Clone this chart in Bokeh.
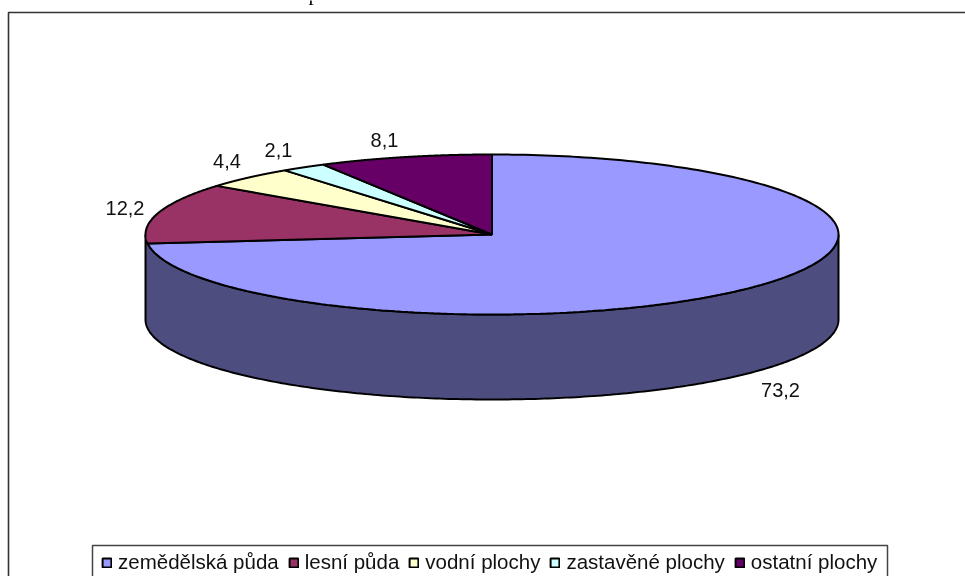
import numpy as np
from bokeh.embed import file_html
from bokeh.resources import INLINE
from bokeh.core.properties import value
from bokeh.models import ColumnDataSource, Legend, LegendItem, Range1d
from bokeh.plotting import figure

categories = ["zemědělská půda", "lesní půda", "vodní plochy", "zastavěné plochy", "ostatní plochy"]
shares = [73.2, 12.2, 4.4, 2.1, 8.1]
value_labels = ["73,2", "12,2", "4,4", "2,1", "8,1"]
colors = ["#9999FF", "#993366", "#FFFFCC", "#CCFFFF", "#660066"]
wall_color = "#4D4D80"
label_x = [780, 124.5, 226.5, 278, 384]
label_y = [389, 207, 160.5, 149.5, 139.5]

W, H = 965, 576
CX, CY, RX, RY, DEPTH = 491.5, 234, 346.5, 80, 85
EDGE = "#000000"

p = figure(width=W, height=H, x_range=Range1d(0, W), y_range=Range1d(H, 0),
           output_backend="svg", toolbar_location=None, min_border=0,
           background_fill_color="white", border_fill_color="white",
           outline_line_color=None,
           styles={"position": "fixed", "left": "0", "top": "0"})
p.axis.visible = False
p.grid.visible = False

# chart frame, legend frame and the clipped title
p.line([8, 8, W], [H, 12, 12], line_color="#333333", line_width=1.6)
p.line([92, 92, 887, 887], [H, 545, 545, H], line_color="#444444", line_width=1.5)
p.text([308], [-8], text=["p"], text_font=value("Liberation Serif"),
       text_font_size="21px", text_color="#000000", text_baseline="alphabetic")


def arc(t0, t1, dy=0.0):
    t = np.radians(np.linspace(t0, t1, 240))
    return CX + RX * np.cos(t), CY + dy - RY * np.sin(t)


# side wall of the first slice, visible along the whole front edge
x_top, y_top = arc(0, -180)
x_bot, y_bot = arc(-180, 0, DEPTH)
p.patch(np.r_[x_top, x_bot], np.r_[y_top, y_bot], fill_color=wall_color,
        line_color=EDGE, line_width=2)

# top slices, clockwise from twelve o'clock
cum = np.cumsum([0] + shares) / sum(shares)
renderers = []
for i, name in enumerate(categories):
    xa, ya = arc(90 - 360 * cum[i], 90 - 360 * cum[i + 1])
    r = p.patch(np.r_[CX, xa, CX], np.r_[CY, ya, CY], fill_color=colors[i],
                line_color=EDGE, line_width=2)
    renderers.append(r)

src = ColumnDataSource(dict(x=label_x, y=label_y, t=value_labels))
p.text("x", "y", text="t", source=src, text_font=value("Liberation Sans"),
       text_font_size="20px", text_color="#111111",
       text_align="center", text_baseline="middle")

legend = Legend(
    items=[LegendItem(label=n, renderers=[r]) for n, r in zip(categories, renderers)],
    orientation="horizontal", location=(101, 2), margin=0, padding=8,
    spacing=9, label_standoff=6, glyph_width=11, glyph_height=11,
    label_text_font="Liberation Sans", label_text_font_size="20.5px",
    label_text_color="#111111", border_line_color=None,
    background_fill_alpha=0.0,
)
p.add_layout(legend, "center")

open("out.html", "w").write(file_html(p, INLINE))
